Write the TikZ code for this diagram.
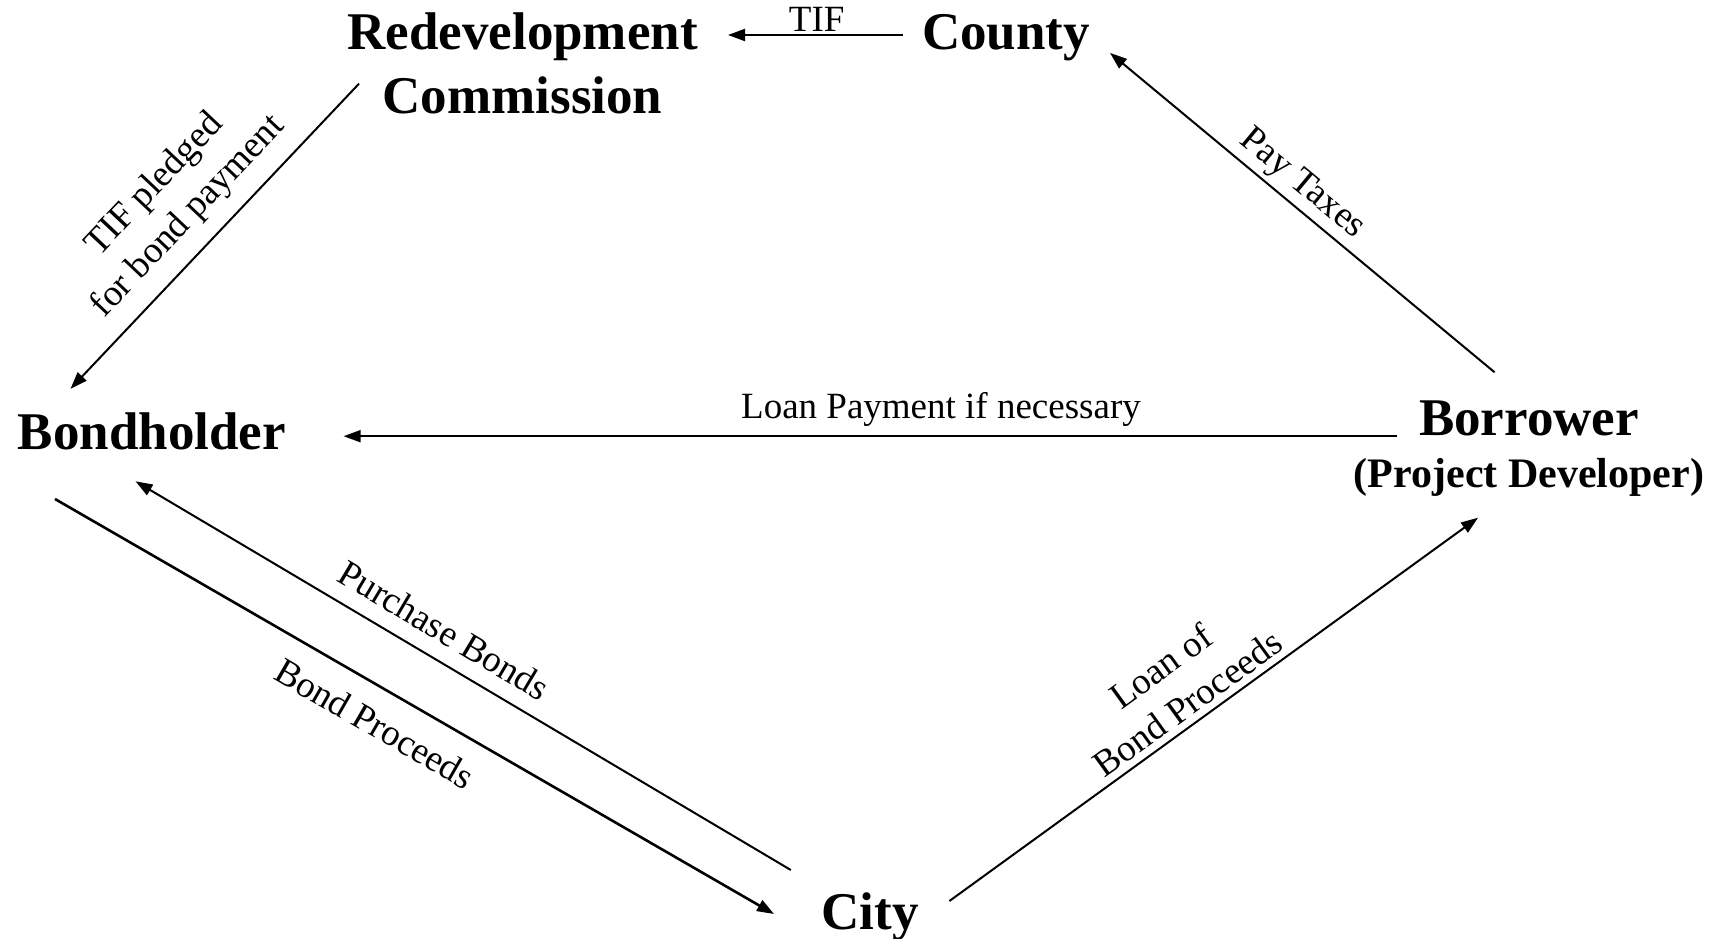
\documentclass[tikz,border=0pt]{standalone}
\usepackage{fontspec}
\setmainfont{Liberation Serif}
\usetikzlibrary{arrows.meta}
\begin{document}
\begin{tikzpicture}[x=1pt,y=-1pt,
  entity/.style={font=\fontsize{53}{64}\selectfont\bfseries, inner sep=0pt, align=center},
  subentity/.style={font=\fontsize{42}{50}\selectfont\bfseries, inner sep=0pt},
  lbl/.style={font=\fontsize{37}{46}\selectfont, inner sep=0pt, align=center},
  flow/.style={draw, line width=2pt, -{Triangle[length=17pt,width=12pt]}},
  heavyflow/.style={flow, line width=2.6pt}]
  % page
  \path[fill=white, use as bounding box] (0,0) rectangle (1727,939);

  % parties
  \node[entity] (rc) at (522.6,63.5) {Redevelopment\\Commission};
  \node[entity, anchor=base] (county) at (1006,49.6) {County};
  \node[entity, anchor=base] (bond) at (152,449) {Bondholder};
  \node[entity, anchor=base] (borrow) at (1529,435) {Borrower};
  \node[subentity, anchor=base] (dev) at (1529,487.5) {(Project Developer)};
  \node[entity, anchor=base] (city) at (870,929) {City};

  % connector ends
  \coordinate (countyW) at (903,35);
  \coordinate (rcE) at (728,35);
  \coordinate (rcSW) at (359,83.7);
  \coordinate (bondNE) at (70.5,388.8);
  \coordinate (borrowNW) at (1494.6,372.3);
  \coordinate (countySE) at (1110,52.9);
  \coordinate (borrowW) at (1396.6,436.2);
  \coordinate (bondE) at (343.6,436.2);
  \coordinate (bondSE) at (55,499);
  \coordinate (cityNW) at (774,914);
  \coordinate (cityN) at (790.8,870);
  \coordinate (bondS) at (135.5,481.3);
  \coordinate (cityNE) at (949.4,901);
  \coordinate (devSW) at (1478,517.7);

  % flows
  \draw[flow] (countyW) -- (rcE);
  \draw[flow] (rcSW) -- (bondNE);
  \draw[flow] (borrowNW) -- (countySE);
  \draw[flow] (borrowW) -- (bondE);
  \draw[heavyflow] (bondSE) -- (cityNW);
  \draw[flow] (cityN) -- (bondS);
  \draw[flow] (cityNE) -- (devSW);

  % flow labels
  \node[lbl, anchor=base] (tif) at (816.7,32) {TIF};
  \node[lbl, rotate=46.6] (pledge) at (172,201) {TIF pledged\\for bond payment};
  \node[lbl, rotate=-39.7] (tax) at (1302,184.5) {Pay Taxes};
  \node[lbl, anchor=base] (loanpay) at (941,418.5) {Loan Payment if necessary};
  \node[lbl, rotate=-30.7] (purchase) at (444,630) {Purchase Bonds};
  \node[lbl, rotate=-30] (proceeds) at (375,723.6) {Bond Proceeds};
  \node[lbl, rotate=35.9] (loan) at (1174,684.5) {Loan of\\Bond Proceeds};
\end{tikzpicture}
\end{document}
